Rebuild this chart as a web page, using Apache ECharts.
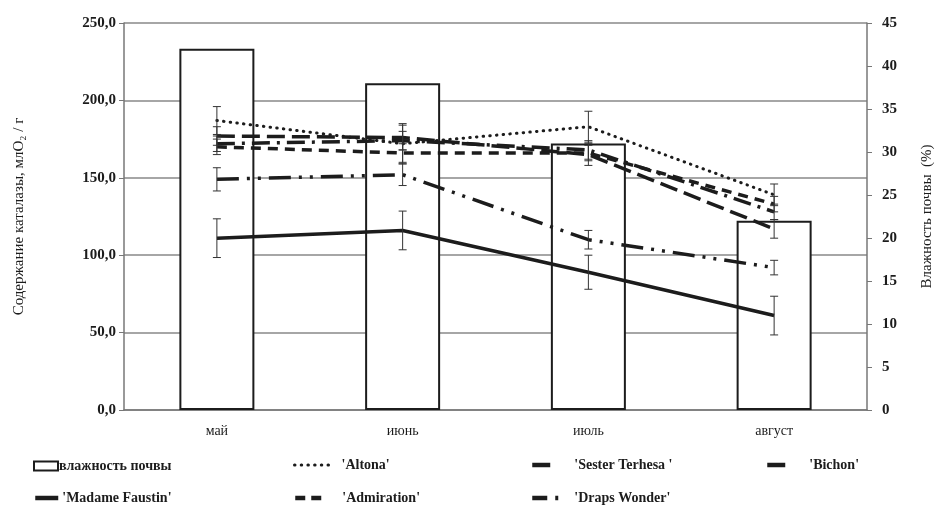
<!DOCTYPE html>
<html>
<head>
<meta charset="utf-8">
<script src="https://cdn.jsdelivr.net/npm/echarts@6/dist/echarts.min.js"></script>
<style>
  html, body { margin: 0; padding: 0; background: #fff; }
  #chart { width: 938px; height: 515px; }
</style>
</head>
<body>
<div id="chart"></div>
<script>
// months and soil moisture (right axis, %)
const months = ['май', 'июнь', 'июль', 'август'];
const soilMoisture = [42, 38, 31, 22];

// catalase content per variety (left axis)
const altona = [187, 172, 183, 139];
const sester = [177, 176, 165, 117];
const bichon = [172, 174, 168, 128];
const faustin = [111, 116, 89, 61];
const admiration = [170, 166, 166, 133];
const draps = [149, 152, 110, 92];

// error bar half-widths
const altonaErr = [9, 13, 10, 7];
const sesterErr = [6, 8, 7, 6];
const bichonErr = [5, 6, 6, 5];
const faustinErr = [12.5, 12.5, 11, 12.5];
const admirationErr = [5, 6, 5, 5];
const drapsErr = [7.5, 7, 6, 4.7];

const leftTicks = [0, 50, 100, 150, 200, 250];

const ink = '#1c1c1c';
const serif = '"Liberation Serif", "DejaVu Serif", serif';

function errData(vals, errs) {
    return vals.map((v, i) => [i, v - errs[i], v + errs[i]]);
}

function renderErr(params, api) {
    const i = api.value(0);
    const top = api.coord([i, api.value(2)]);
    const bot = api.coord([i, api.value(1)]);
    const w = 4;
    const st = {stroke: '#333', lineWidth: 1};
    return {
        type: 'group',
        children: [
            {type: 'line', shape: {x1: top[0], y1: top[1], x2: bot[0], y2: bot[1]}, style: st},
            {type: 'line', shape: {x1: top[0] - w, y1: top[1], x2: top[0] + w, y2: top[1]}, style: st},
            {type: 'line', shape: {x1: bot[0] - w, y1: bot[1], x2: bot[0] + w, y2: bot[1]}, style: st}
        ]
    };
}

function lineSeries(name, data, type, width, cap) {
    return {
        name: name,
        type: 'line',
        yAxisIndex: 0,
        data: data,
        symbol: 'none',
        z: 3,
        itemStyle: {color: ink},
        lineStyle: {color: ink, width: width, type: type, cap: cap || 'butt'}
    };
}

function errSeries(vals, errs) {
    return {
        type: 'custom',
        yAxisIndex: 0,
        renderItem: renderErr,
        data: errData(vals, errs),
        z: 4,
        silent: true
    };
}

const legendText = {fontFamily: serif, fontWeight: 'bold', fontSize: 14, color: ink};

function legendAt(name, left, top, w, h, pad, dash) {
    const lg = {
        data: [name],
        left: left,
        top: top,
        padding: 0,
        itemWidth: w,
        itemHeight: h,
        selectedMode: false,
        textStyle: Object.assign({padding: [0, 0, 0, pad]}, legendText)
    };
    if (dash === 'bar') {
        lg.icon = 'rect';
        lg.itemStyle = {color: '#fff', borderColor: ink, borderWidth: 2};
    } else {
        lg.itemStyle = {opacity: 0};
        lg.lineStyle = {width: dash === 'dot' ? 3 : 4.5};
        if (Array.isArray(dash)) lg.lineStyle.type = dash;
    }
    return lg;
}

const chart = echarts.init(document.getElementById('chart'));

chart.setOption({
    animation: false,
    grid: {left: 124, right: 71, top: 23, bottom: 105, outerBoundsMode: 'none', containLabel: false},
    legend: [
        legendAt('влажность почвы', 33, 459, 24, 9, -4, 'bar'),
        legendAt("'Altona'", 293, 458, 38, 14, 4, 'dot'),
        legendAt("'Sester Terhesa '", 530, 458, 25, 14, 12, 'solid'),
        legendAt("'Bichon'", 765, 458, 25, 14, 12, 'solid'),
        legendAt("'Madame Faustin'", 33, 491, 23, 14, -1, 'solid'),
        legendAt("'Admiration'", 293, 491, 26, 14, 16, [10, 6]),
        legendAt("'Draps Wonder'", 530, 491, 26, 14, 11, [15, 8, 3, 8])
    ],
    xAxis: {
        type: 'category',
        data: months,
        axisLine: {lineStyle: {color: '#777', width: 1.5}},
        axisTick: {show: false},
        axisLabel: {fontFamily: serif, fontSize: 14, color: ink, margin: 14}
    },
    yAxis: [{
        type: 'value',
        min: leftTicks[0],
        max: leftTicks[leftTicks.length - 1],
        interval: 50,
        name: 'Содержание каталазы, млO₂ / г',
        nameLocation: 'middle',
        nameGap: 97,
        nameTextStyle: {fontFamily: serif, fontSize: 15, color: ink},
        axisLine: {show: true, lineStyle: {color: '#777', width: 1.5}},
        axisTick: {show: true, length: 5, lineStyle: {color: '#777'}},
        axisLabel: {
            fontFamily: serif, fontWeight: 'bold', fontSize: 15, color: ink, margin: 8,
            formatter: v => v.toFixed(1).replace('.', ',')
        },
        splitLine: {lineStyle: {color: '#888', width: 1.5}}
    }, {
        type: 'value',
        min: 0,
        max: 45,
        interval: 5,
        position: 'right',
        name: 'Влажность почвы  (%)',
        nameLocation: 'middle',
        nameGap: 53,
        nameRotate: 90,
        nameTextStyle: {fontFamily: serif, fontSize: 15, color: ink},
        axisLine: {show: true, lineStyle: {color: '#777', width: 1.5}},
        axisTick: {show: true, length: 5, lineStyle: {color: '#777'}},
        axisLabel: {fontFamily: serif, fontWeight: 'bold', fontSize: 15, color: ink, margin: 15},
        splitLine: {show: false}
    }],
    series: [
        {
            name: 'влажность почвы',
            type: 'bar',
            yAxisIndex: 1,
            data: soilMoisture,
            barWidth: 75,
            z: 2,
            itemStyle: {color: '#fff', borderColor: ink, borderWidth: 2}
        },
        lineSeries("'Altona'", altona, [0.5, 6.2], 3, 'round'),
        lineSeries("'Sester Terhesa '", sester, [18, 7], 3.5),
        lineSeries("'Bichon'", bichon, [18, 7, 3, 7], 3.5),
        lineSeries("'Madame Faustin'", faustin, 'solid', 3.5),
        lineSeries("'Admiration'", admiration, [10, 7], 3.5),
        lineSeries("'Draps Wonder'", draps, [22, 8, 3, 8, 3, 8], 3.5),
        errSeries(altona, altonaErr),
        errSeries(sester, sesterErr),
        errSeries(bichon, bichonErr),
        errSeries(faustin, faustinErr),
        errSeries(admiration, admirationErr),
        errSeries(draps, drapsErr)
    ]
});
</script>
</body>
</html>
